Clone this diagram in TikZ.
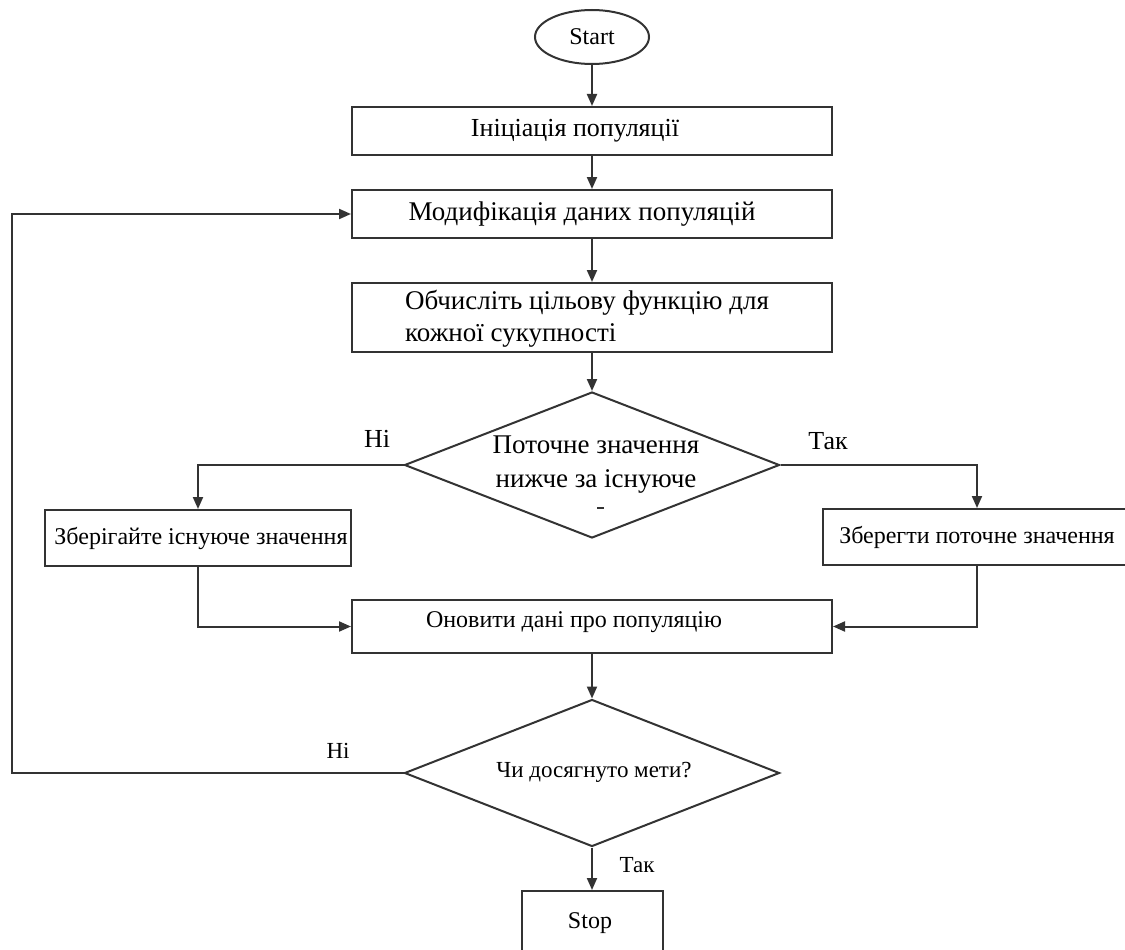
\documentclass[tikz,border=0pt]{standalone}
\usepackage{fontspec}
\setmainfont{Liberation Serif}
\usetikzlibrary{arrows.meta,shapes.geometric}
\definecolor{linegray}{HTML}{333333}
\begin{document}
\begin{tikzpicture}[x=1pt,y=-1pt,
  box/.style={draw=linegray,line width=2pt,rectangle,inner sep=0pt},
  decision/.style={draw=linegray,line width=2pt,diamond,inner sep=0pt,shape aspect=2.57},
  conn/.style={draw=linegray,line width=2pt,-{Triangle[length=12pt,width=10pt]}},
  txt/.style={inner sep=0pt,text=black},
  big/.style={font=\fontsize{26}{30}\selectfont},
  mid/.style={font=\fontsize{24}{28}\selectfont},
]
\clip (0,0) rectangle (1125,950);
\fill[white] (0,0) rectangle (1125,950);

% shapes
\node[box,ellipse,minimum width=114pt,minimum height=54pt] (start) at (592,37) {};
\node[box,minimum width=480pt,minimum height=48pt] (init) at (592,131) {};
\node[box,minimum width=480pt,minimum height=48pt] (modify) at (592,214) {};
\node[box,minimum width=480pt,minimum height=69pt] (eval) at (592,317.5) {};
\node[decision,minimum width=375pt,minimum height=146pt] (cmp) at (592,465) {};
\node[box,minimum width=306pt,minimum height=56pt] (keep) at (198,538) {};
\node[box,minimum width=308pt,minimum height=56pt] (save) at (977,537) {};
\node[box,minimum width=480pt,minimum height=53pt] (update) at (592,626.5) {};
\node[decision,minimum width=375pt,minimum height=147pt] (goal) at (592,773) {};
\node[box,minimum width=141pt,minimum height=80pt] (stop) at (592,931) {};
\coordinate (back) at (12,773);

% texts
\node[txt,font=\fontsize{24}{28}\selectfont] (tstart) at (592,37) {Start};
\node[txt,big] (tinit) at (575,131) {Ініціація популяції};
\node[txt,font=\fontsize{27}{31}\selectfont] (tmodify) at (582,214) {Модифікація даних популяцій};
\node[txt,font=\fontsize{27}{32}\selectfont,align=left,anchor=west] (teval) at (405,319)
  {Обчисліть цільову функцію для\\кожної сукупності};
\node[txt,font=\fontsize{27}{34}\selectfont,align=center] (tcmp) at (596,465)
  {Поточне значення\\нижче за існуюче};
\draw[linegray,line width=1.2pt] (597,508) -- (604,508);
\node[txt,big] (tno1) at (377,439) {Ні};
\node[txt,big] (tyes1) at (828,441) {Так};
\node[txt,mid] (tkeep) at (201,538) {Зберігайте існуюче значення};
\node[txt,mid] (tsave) at (977,537) {Зберегти поточне значення};
\node[txt,font=\fontsize{24}{28}\selectfont] (tupdate) at (574,622) {Оновити дані про популяцію};
\node[txt,font=\fontsize{23}{27}\selectfont] (tgoal) at (594,772) {Чи досягнуто мети?};
\node[txt,font=\fontsize{23}{27}\selectfont] (tno2) at (338,751) {Ні};
\node[txt,font=\fontsize{23}{27}\selectfont] (tyes2) at (637,865) {Так};
\node[txt,font=\fontsize{24}{28}\selectfont] (tstop) at (590,923) {Stop};

% connectors
\draw[conn] (start.south) -- (init.north);
\draw[conn] (init.south) -- (modify.north);
\draw[conn] (modify.south) -- (eval.north);
\draw[conn] (eval.south) -- (cmp.north);
\draw[conn] (cmp.west) -| (keep.north);
\draw[conn] (cmp.east) -| (save.north);
\draw[conn] (keep.south) |- (update.west);
\draw[conn] (save.south) |- (update.east);
\draw[conn] (update.south) -- (goal.north);
\draw[conn] (goal.west) -- (back) |- (modify.west);
\draw[conn] (goal.south) -- (stop.north);
\end{tikzpicture}
\end{document}
